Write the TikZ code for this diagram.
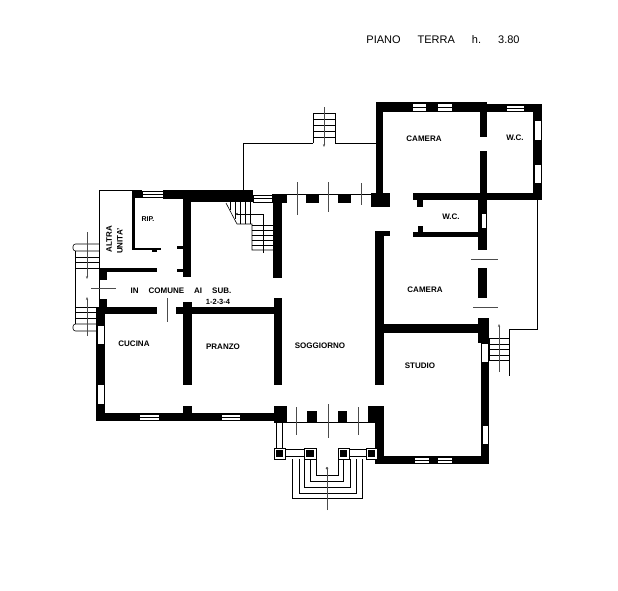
\documentclass[tikz,border=0pt]{standalone}
\usepackage{fontspec}
\setmainfont{Liberation Sans}
\usetikzlibrary{arrows.meta}
\begin{document}
\begin{tikzpicture}[x=1pt,y=-1pt,
	wal/.style={fill=black,draw=none},
	win/.style={fill=white,draw=black,line width=0.5pt},
	thn/.style={draw=black,line width=0.6pt},
	tck/.style={draw=black!70,line width=0.6pt},
	lab/.style={font=\fontsize{8}{9}\selectfont\bfseries,inner sep=0pt}]
	\useasboundingbox (0,0) rectangle (618,590);
	\fill[white] (0,0) rectangle (618,590);

	% labels
	\node [lab,font=\fontsize{11}{12}\selectfont] (titolo) at (443,40) {PIANO\hspace{17pt}TERRA\hspace{17pt}h.\hspace{17pt}3.80};
	\node [lab] (cam1) at (424,139) {CAMERA};
	\node [lab] (wc1) at (515,138) {W.C.};
	\node [lab] (wc2) at (451,217) {W.C.};
	\node [lab] (cam2) at (425,290) {CAMERA};
	\node [lab] (stu) at (420,366) {STUDIO};
	\node [lab] (sog) at (320,346) {SOGGIORNO};
	\node [lab] (pra) at (223,347) {PRANZO};
	\node [lab] (cuc) at (134,344) {CUCINA};
	\node [lab,font=\fontsize{7}{8}\selectfont\bfseries] (rip) at (148,219) {RIP.};
	\node [lab,rotate=90] (alt) at (109,239) {ALTRA};
	\node [lab,rotate=90] (uni) at (120,241) {UNITA'};
	\node [lab] (com) at (181,291) {IN\hspace{10pt}COMUNE\hspace{10pt}AI\hspace{10pt}SUB.};
	\node [lab,font=\fontsize{7.5}{8}\selectfont\bfseries] (sub) at (218,302) {1-2-3-4};

	% muri a sinistra
	\fill[wal] (132,190) rectangle (135,250);
	\fill[wal] (132,190) rectangle (142,198);
	\fill[wal] (163,190) rectangle (253,199);
	\fill[wal] (183,190) rectangle (253,202);
	\fill[wal] (183,190) rectangle (191,277);
	\fill[wal] (132,248) rectangle (161,250);
	\fill[wal] (152,248) rectangle (157,252);
	\fill[wal] (177,246) rectangle (183,249);
	\fill[wal] (177,269) rectangle (183,272);
	\fill[wal] (100,268) rectangle (157,272);
	\fill[wal] (100,268) rectangle (107,280);
	\fill[wal] (99,299) rectangle (107,314);
	\fill[wal] (99,307) rectangle (157,314);
	\fill[wal] (176,307) rectangle (282,314);
	\fill[wal] (183,302) rectangle (192,385);
	\fill[wal] (183,406) rectangle (192,415);
	\fill[wal] (273,194) rectangle (282,278);
	\fill[wal] (272,194) rectangle (287,203);
	\fill[wal] (274,298) rectangle (282,385);
	\fill[wal] (96,307) rectangle (105,421);
	\fill[wal] (96,413) rectangle (287,421);
	\fill[wal] (274,406) rectangle (287,423);

	% muri a destra
	\fill[wal] (376,102) rectangle (487,112);
	\fill[wal] (487,104) rectangle (542,112);
	\fill[wal] (376,102) rectangle (383,205);
	\fill[wal] (371,193) rectangle (390,207);
	\fill[wal] (306,194) rectangle (319,203);
	\fill[wal] (338,194) rectangle (351,203);
	\fill[wal] (533,104) rectangle (542,200);
	\fill[wal] (413,193) rectangle (542,200);
	\fill[wal] (417,200) rectangle (423,207);
	\fill[wal] (480,102) rectangle (487,137);
	\fill[wal] (480,151) rectangle (487,205);
	\fill[wal] (478,200) rectangle (487,250);
	\fill[wal] (478,268) rectangle (487,298);
	\fill[wal] (478,318) rectangle (489,343);
	\fill[wal] (481,343) rectangle (489,464);
	\fill[wal] (375,231) rectangle (384,385);
	\fill[wal] (375,231) rectangle (390,236);
	\fill[wal] (413,232) rectangle (480,237);
	\fill[wal] (418,226) rectangle (423,232);
	\fill[wal] (375,324) rectangle (480,333);
	\fill[wal] (375,406) rectangle (384,464);
	\fill[wal] (368,406) rectangle (384,423);
	\fill[wal] (375,456) rectangle (489,464);
	\fill[wal] (307,411) rectangle (317,423);
	\fill[wal] (338,411) rectangle (347,423);

	% finestre
	\foreach \xa/\xb/\ya/\yb in {142/163/191/197, 253/272/195/202, 412/426/103/111,
		437/452/103/111, 506/524/105/111, 139/159/414/420, 221/240/414/420,
		414/429/457/463, 437/452/457/463, 534/541/120/140, 534/541/164/183,
		97/104/325/344, 97/104/384/404, 482/488/425/444, 481/486/213/228, 481/488/343/362}
		\draw[win] (\xa,\ya) rectangle (\xb,\yb);
	\draw[thn] (142,194)--(163,194) (253,198)--(272,198) (412,107)--(426,107) (437,107)--(452,107);
	\draw[thn] (506,108)--(524,108) (139,417)--(159,417) (221,417)--(240,417);
	\draw[thn] (414,460)--(429,460) (437,460)--(452,460);

	% linee esterne
	\draw[thn] (132,190)--(99,190)--(99,299);
	\draw[thn] (243,190)--(243,143)--(313,143);
	\draw[thn] (335,143)--(376,143);
	\draw[thn] (287,194)--(371,194);
	\draw[thn] (537,200)--(537,329)--(509,329)--(509,338);
	\draw[thn] (287,422)--(368,422);

	% scala in alto
	\draw[thn] (313,143)--(313,113)--(335,113)--(335,143);
	\foreach \y in {119,125,131,137}
		\draw[thn] (313,\y)--(335,\y);
	\draw[tck,-{Stealth[length=3pt]}] (324,107)--(324,147);

	% scala interna
	\draw[thn] (226,203)--(237,224)--(252,224)--(252,250)--(273,250);
	\foreach \x/\y in {230/210,235/219,240/224,245/224,250/224}
		\draw[thn] (\x,202)--(\x,\y);
	\foreach \y in {225,230,235,240,245}
		\draw[thn] (252,\y)--(273,\y);
	\draw[thn,-{Stealth[length=3pt]}] (263,253)--(263,214)--(235,214);

	% scale a sinistra
	\draw[thn,rounded corners=2.5pt] (99,244)--(73,244)--(73,251)--(99,251);
	\foreach \y in {257,262,268}
		\draw[thn] (75,\y)--(99,\y);
	\draw[thn] (75,251)--(75,324);
	\foreach \y in {307,312,318}
		\draw[thn] (75,\y)--(96,\y);
	\draw[thn,rounded corners=2.5pt] (96,324)--(73,324)--(73,331)--(96,331);
	\draw[tck,-{Stealth[length=3pt]}] (87,232)--(87,279);
	\draw[tck,-{Stealth[length=3pt]}] (87,336)--(87,297);
	\draw[tck] (91,288)--(116,288);
	\draw[tck] (167,298)--(167,322);

	% scala a destra
	\draw[thn] (489,338) rectangle (509,360);
	\draw[thn] (489,344)--(509,344) (489,349)--(509,349) (489,355)--(509,355);
	\draw[thn] (509,360)--(509,376);
	\draw[tck,-{Stealth[length=3pt]}] (499,372)--(499,324);

	% trattini delle aperture
	\draw[tck] (297,182)--(297,215);
	\draw[tck] (328,182)--(328,212);
	\draw[tck] (361,183)--(361,205);
	\draw[tck] (471,259)--(498,259);
	\draw[tck] (473,307)--(498,307);
	\draw[tck] (296,407)--(296,435);
	\draw[tck] (328,404)--(328,438);
	\draw[tck] (358,407)--(358,435);

	% portico
	\draw[thn] (276,423)--(276,448) (282,423)--(282,448);
	\draw[thn] (285,449)--(304,449) (285,456)--(304,456);
	\draw[thn] (349,449)--(366,449) (349,456)--(366,456);
	\foreach \xa/\xb in {274/285, 304/316, 338/349, 366/377}{
		\draw[thn,fill=white] (\xa,448) rectangle (\xb,459);
		\fill[wal] (\xa+2,450) rectangle (\xb-2,457);
	}
	\foreach \xa/\xb/\yb in {292/362/498, 299/356/493, 304/350/487, 310/343/481, 316/338/475}
		\draw[thn] (\xa,459)--(\xa,\yb)--(\xb,\yb)--(\xb,459);
	\draw[tck,-{Circle[length=2.5pt]}] (327,510)--(327,467);
\end{tikzpicture}
\end{document}
